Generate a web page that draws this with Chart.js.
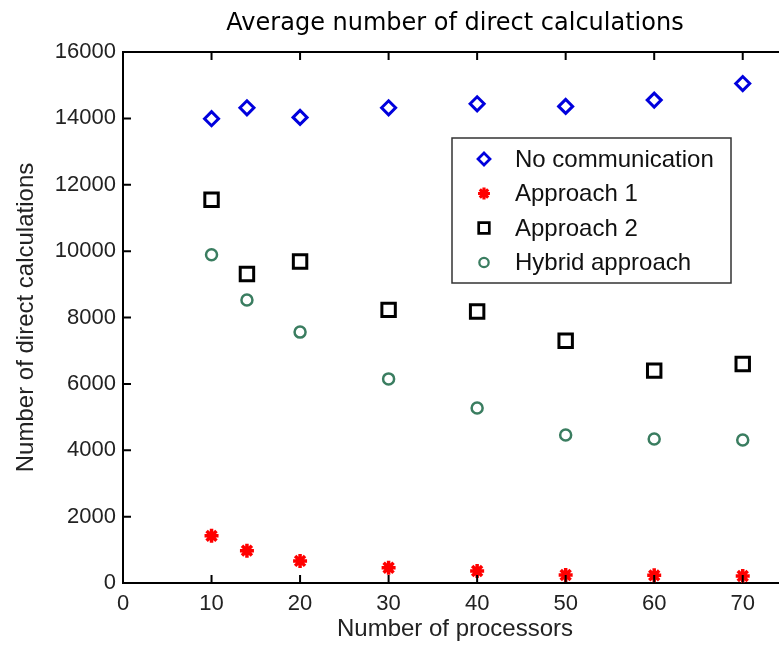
<!DOCTYPE html>
<html>
<head>
<meta charset="utf-8">
<title>Average number of direct calculations</title>
<script src="https://cdn.jsdelivr.net/npm/chart.js@4.4.0/dist/chart.umd.min.js"></script>
<style>
    html, body { margin: 0; padding: 0; background: #fff; overflow: hidden; }
    #wrap { position: relative; width: 800px; height: 650px; }
</style>
</head>
<body>
<div id="wrap">
    <canvas id="calcChart" width="800" height="650"></canvas>
</div>
<script>
// Data
const processors = [10, 14, 20, 30, 40, 50, 60, 70];
const noCommunication = [13990, 14320, 14030, 14320, 14440, 14360, 14550, 15050];
const approach1 = [1420, 975, 665, 460, 360, 240, 230, 210];
const approach2 = [11550, 9310, 9690, 8230, 8180, 7300, 6400, 6600];
const hybridApproach = [9890, 8530, 7560, 6150, 5270, 4460, 4340, 4310];

const xTicks = [0, 10, 20, 30, 40, 50, 60, 70];
const yTicks = [0, 2000, 4000, 6000, 8000, 10000, 12000, 14000, 16000];

const FONT = '"Liberation Sans", Arial, Helvetica, sans-serif';

const toPoints = (ys) => ys.map((y, i) => ({ x: processors[i], y: y }));

const series = [
    { label: 'No communication', data: noCommunication, color: '#0000dd', style: 'rectRot', radius: 7, width: 3 },
    { label: 'Approach 1', data: approach1, color: '#ff0000', style: 'star', radius: 7, width: 3.5 },
    { label: 'Approach 2', data: approach2, color: '#000000', style: 'rect', radius: 9.5, width: 3 },
    { label: 'Hybrid approach', data: hybridApproach, color: '#3a7d60', style: 'circle', radius: 5.5, width: 2.5 }
];

// Title, box top line, inward ticks and the legend, MATLAB style
const matlabFrame = {
    id: 'matlabFrame',
    afterDraw(chart) {
        const ctx = chart.ctx;
        const area = chart.chartArea;
        const xs = chart.scales.x;
        const ys = chart.scales.y;
        const tick = 8;

        ctx.save();
        ctx.strokeStyle = '#000';
        ctx.lineWidth = 2;

        // top and right lines of the box
        ctx.beginPath();
        ctx.moveTo(area.left, area.top);
        ctx.lineTo(area.right, area.top);
        ctx.lineTo(area.right, area.bottom);
        ctx.stroke();

        // x ticks (bottom and top, pointing in)
        xTicks.forEach(v => {
            const px = xs.getPixelForValue(v);
            ctx.beginPath();
            ctx.moveTo(px, area.bottom);
            ctx.lineTo(px, area.bottom - tick);
            ctx.moveTo(px, area.top);
            ctx.lineTo(px, area.top + tick);
            ctx.stroke();
        });
        // y ticks (left and right, pointing in)
        yTicks.forEach(v => {
            const py = ys.getPixelForValue(v);
            ctx.beginPath();
            ctx.moveTo(area.left, py);
            ctx.lineTo(area.left + tick, py);
            ctx.moveTo(area.right, py);
            ctx.lineTo(area.right - tick, py);
            ctx.stroke();
        });

        // title
        ctx.fillStyle = '#000';
        ctx.font = '24px "DejaVu Sans", sans-serif';
        ctx.textAlign = 'center';
        ctx.textBaseline = 'alphabetic';
        ctx.fillText('Average number of direct calculations', (area.left + area.right) / 2, 30);

        // legend
        const box = { x: 452, y: 138, w: 279, h: 145 };
        ctx.fillStyle = '#fff';
        ctx.fillRect(box.x, box.y, box.w, box.h);
        ctx.strokeStyle = '#333';
        ctx.lineWidth = 1.5;
        ctx.strokeRect(box.x, box.y, box.w, box.h);

        ctx.font = '24px ' + FONT;
        ctx.textAlign = 'left';
        ctx.textBaseline = 'middle';
        chart.data.datasets.forEach((ds, i) => {
            const rowY = box.y + 21 + i * 34.5;
            const r = ds.pointStyle === 'rect' ? 7.5 : (ds.pointStyle === 'rectRot' ? 6 : ds.pointRadius * 0.85);
            ctx.strokeStyle = ds.borderColor;
            ctx.fillStyle = 'rgba(0,0,0,0)';
            ctx.lineWidth = ds.borderWidth * 0.9;
            Chart.helpers.drawPoint(ctx, { pointStyle: ds.pointStyle, radius: r, borderWidth: ds.borderWidth, rotation: 0 }, box.x + 32, rowY);
            ctx.fillStyle = '#111';
            ctx.fillText(ds.label, box.x + 63, rowY + 1);
        });
        ctx.restore();
    }
};

new Chart(document.getElementById('calcChart'), {
    type: 'scatter',
    data: {
        datasets: series.map(s => ({
            label: s.label,
            data: toPoints(s.data),
            pointStyle: s.style,
            pointRadius: s.radius,
            pointHoverRadius: s.radius,
            borderColor: s.color,
            backgroundColor: 'rgba(0,0,0,0)',
            borderWidth: s.width,
            showLine: false
        }))
    },
    options: {
        responsive: false,
        animation: false,
        layout: { padding: { left: 0, right: 13, top: 52, bottom: 0 } },
        plugins: {
            legend: { display: false },
            title: { display: false },
            tooltip: { enabled: false }
        },
        scales: {
            x: {
                type: 'linear',
                min: 0,
                max: 75,
                afterFit: (scale) => { scale.height = 67; },
                afterBuildTicks: (scale) => { scale.ticks = xTicks.map(v => ({ value: v })); },
                grid: { display: false, drawTicks: false },
                border: { display: true, color: '#000', width: 2 },
                ticks: {
                    padding: 8,
                    color: '#222',
                    font: { family: FONT, size: 22 },
                    maxRotation: 0
                },
                title: {
                    display: true,
                    text: 'Number of processors',
                    color: '#222',
                    font: { family: FONT, size: 24 },
                    padding: { top: 0, bottom: 6 }
                }
            },
            y: {
                type: 'linear',
                min: 0,
                max: 16000,
                afterFit: (scale) => { scale.width = 123; },
                afterBuildTicks: (scale) => { scale.ticks = yTicks.map(v => ({ value: v })); },
                grid: { display: false, drawTicks: false },
                border: { display: true, color: '#000', width: 2 },
                ticks: {
                    padding: 7,
                    color: '#222',
                    font: { family: FONT, size: 22 },
                    callback: (v) => String(v)
                },
                title: {
                    display: true,
                    text: 'Number of direct calculations',
                    color: '#222',
                    font: { family: FONT, size: 24 },
                    padding: { top: 12, bottom: 0 }
                }
            }
        }
    },
    plugins: [matlabFrame]
});
</script>
</body>
</html>
